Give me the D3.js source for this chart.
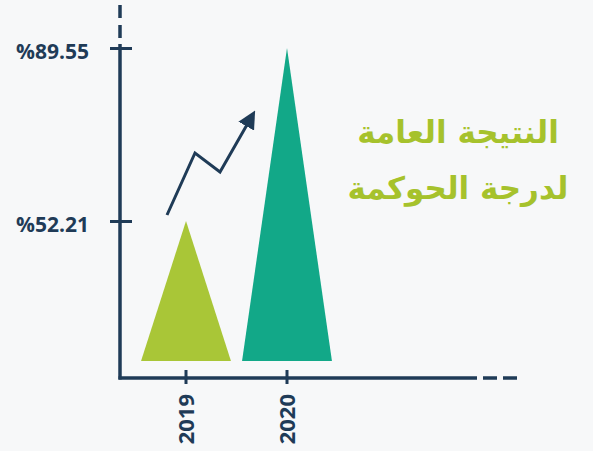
<!DOCTYPE html>
<html>
<head>
<meta charset="utf-8">
<script src="https://cdn.jsdelivr.net/npm/d3@7"></script>
<style>
  html, body { margin: 0; padding: 0; background: #f7f8f9; }
  svg { display: block; }
</style>
</head>
<body>
<svg id="chart" width="593" height="451"></svg>
<script>
// ---- data ----
const years = ["2019", "2020"];
const scores = [52.21, 89.55];
const tickValues = [52.21, 89.55];
const barColors = ["#a9c637", "#12a888"];
const titleLines = ["النتيجة العامة", "لدرجة الحوكمة"];

// ---- layout ----
const W = 593, H = 451;
const navy = "#1f3b57";
const axisX = 120, axisY = 378, baseY = 361;

const svg = d3.select("#chart");
svg.append("rect").attr("width", W).attr("height", H).attr("fill", "#f7f8f9");

const x = d3.scaleBand().domain(years).range([135.5, 337.5]).padding(0);
const y = d3.scaleLinear().domain([tickValues[0], tickValues[1]]).range([221, 48]);
const triW = x.bandwidth() * 0.89;

// triangles
svg.selectAll("path.tri")
  .data(years.map((yr, i) => ({ yr, v: scores[i], c: barColors[i] })))
  .enter().append("path")
  .attr("class", "tri")
  .attr("fill", d => d.c)
  .attr("d", d => {
    const cx = x(d.yr) + x.bandwidth() / 2;
    return `M${cx - triW / 2},${baseY}L${cx},${y(d.v)}L${cx + triW / 2},${baseY}Z`;
  });

// y axis line (solid + dashed top)
svg.append("line").attr("x1", axisX).attr("x2", axisX).attr("y1", 44).attr("y2", axisY + 1.5)
  .attr("stroke", navy).attr("stroke-width", 3.5);
[[5, 18], [25, 38]].forEach(([a, b]) => {
  svg.append("line").attr("x1", axisX).attr("x2", axisX).attr("y1", a).attr("y2", b)
    .attr("stroke", navy).attr("stroke-width", 3.5);
});
// x axis line (solid + dashed right)
svg.append("line").attr("x1", axisX - 1.5).attr("x2", 477).attr("y1", axisY).attr("y2", axisY)
  .attr("stroke", navy).attr("stroke-width", 3.5);
[[483, 497], [503, 517]].forEach(([a, b]) => {
  svg.append("line").attr("x1", a).attr("x2", b).attr("y1", axisY).attr("y2", axisY)
    .attr("stroke", navy).attr("stroke-width", 3.5);
});

// y axis ticks via d3 axis
const yAxis = d3.axisLeft(y).tickValues(tickValues).tickSize(0).tickPadding(0)
  .tickFormat(v => "%" + d3.format(".2f")(v));
const gy = svg.append("g").attr("transform", `translate(${axisX},0)`).call(yAxis);
gy.select(".domain").remove();
gy.selectAll(".tick").append("line")
  .attr("x1", -10).attr("x2", 12).attr("stroke", navy).attr("stroke-width", 3);
gy.selectAll(".tick text")
  .attr("x", -31).attr("dy", "0.5em")
  .attr("fill", navy)
  .style("font-family", "'Open Sans', sans-serif")
  .style("font-weight", 700)
  .style("font-size", "21px")
  .attr("text-anchor", "end");

// x axis ticks via d3 axis
const xAxis = d3.axisBottom(x).tickSize(0).tickPadding(0);
const gx = svg.append("g").attr("transform", `translate(0,${axisY})`).call(xAxis);
gx.select(".domain").remove();
gx.selectAll(".tick").append("line")
  .attr("y1", -8).attr("y2", 6).attr("stroke", navy).attr("stroke-width", 3);
gx.selectAll(".tick text")
  .attr("transform", "translate(0,16) rotate(-90)")
  .attr("x", 0).attr("y", 0).attr("dy", "0.36em")
  .attr("text-anchor", "end")
  .attr("fill", navy)
  .style("font-family", "'Open Sans', sans-serif")
  .style("font-weight", 700)
  .style("font-size", "22px");

// trend arrow annotation (placed relative to the 2019 triangle apex)
const c19 = x(years[0]) + x.bandwidth() / 2;
const ap = y(scores[0]);
const pts = [[c19 - 19, ap - 6], [c19 + 9, ap - 68], [c19 + 34, ap - 49], [c19 + 62, ap - 98]];
svg.append("defs").append("marker")
  .attr("id", "ah").attr("viewBox", "0 0 10 10").attr("refX", 2).attr("refY", 5)
  .attr("markerWidth", 6).attr("markerHeight", 6).attr("markerUnits", "strokeWidth")
  .attr("orient", "auto")
  .append("path").attr("d", "M0,0L10,5L0,10Z").attr("fill", navy);
svg.append("path")
  .attr("d", d3.line()(pts))
  .attr("fill", "none").attr("stroke", navy).attr("stroke-width", 3)
  .attr("stroke-linejoin", "miter")
  .attr("marker-end", "url(#ah)");

// title
svg.selectAll("text.title")
  .data(titleLines).enter().append("text")
  .attr("class", "title")
  .attr("x", 458).attr("y", (d, i) => 143 + i * 56)
  .attr("text-anchor", "middle")
  .attr("direction", "rtl")
  .attr("fill", "#a6c22c")
  .style("font-family", "'DejaVu Sans', sans-serif")
  .style("font-weight", 700)
  .style("font-size", "31px")
  .text(d => d);
</script>
</body>
</html>
